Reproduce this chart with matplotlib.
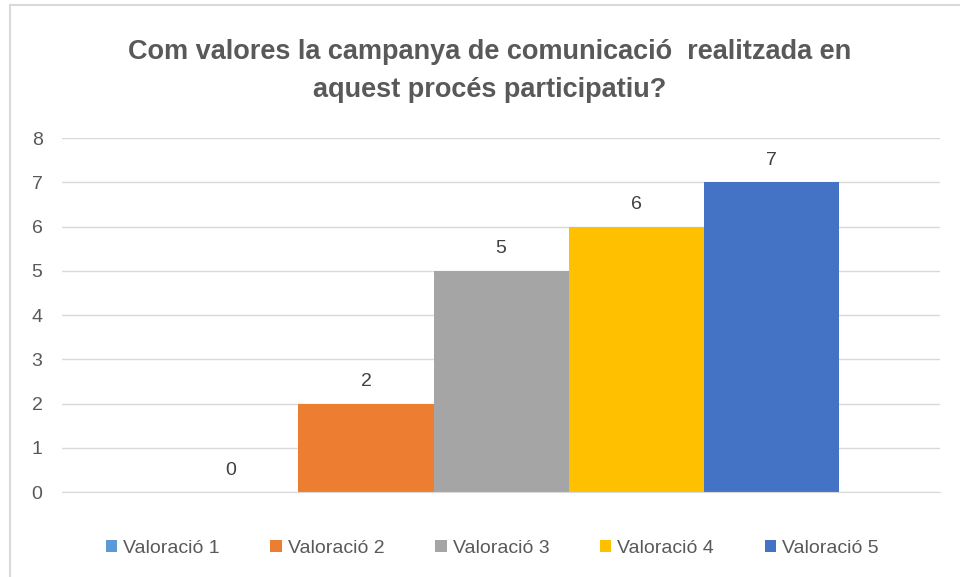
import matplotlib.pyplot as plt
from matplotlib.patches import Rectangle

# data
series = ["Valoració 1", "Valoració 2", "Valoració 3", "Valoració 4", "Valoració 5"]
values = [0, 2, 5, 6, 7]
colors = ["#5B9BD5", "#ED7D31", "#A5A5A5", "#FFC000", "#4472C4"]
title = "Com valores la campanya de comunicació  realitzada en\naquest procés participatiu?"

plt.rcParams['font.family'] = ['Liberation Sans', 'DejaVu Sans']

fig = plt.figure(figsize=(9.6, 5.77), dpi=100)
ax = fig.add_axes([0.0646, 0.1473, 0.9146, 0.6135])

# light border around chart area
fig.patches.append(Rectangle((10 / 960, -0.01), 1.0, 1 - 5 / 577 + 0.01,
                             transform=fig.transFigure, fill=False,
                             edgecolor="#D9D9D9", linewidth=1.5))

bar_w = 0.1538
n = len(values)
for i, (name, v, col) in enumerate(zip(series, values, colors)):
    x = (i - (n - 1) / 2) * bar_w
    ax.bar(x, v, width=bar_w, color=col, label=name)
    ax.text(x, v + 0.3, str(v), ha="center", va="bottom",
            fontsize=14, color="#404040")

ax.set_xlim(-0.5, 0.5)
ax.set_ylim(0, 8)
ax.set_yticks(range(0, 9))
ax.set_xticks([])
ax.yaxis.grid(True, color="#D9D9D9", linewidth=1)
ax.set_axisbelow(True)
for s in ax.spines.values():
    s.set_visible(False)
ax.spines["bottom"].set_visible(True)
ax.spines["bottom"].set_color("#D9D9D9")
ax.tick_params(axis="y", length=0, labelsize=14, labelcolor="#595959", pad=14)

fig.text(0.51, 0.877, title, ha="center", va="center", fontsize=19.5,
         fontweight="bold", color="#595959", linespacing=1.6)

ax.legend(loc="center", bbox_to_anchor=(0.49, -0.16), ncol=5, frameon=False,
          fontsize=14, labelcolor="#595959", handlelength=0.6, handleheight=0.6,
          handletextpad=0.3, columnspacing=2.6)

fig.savefig("out.png", dpi=100)
